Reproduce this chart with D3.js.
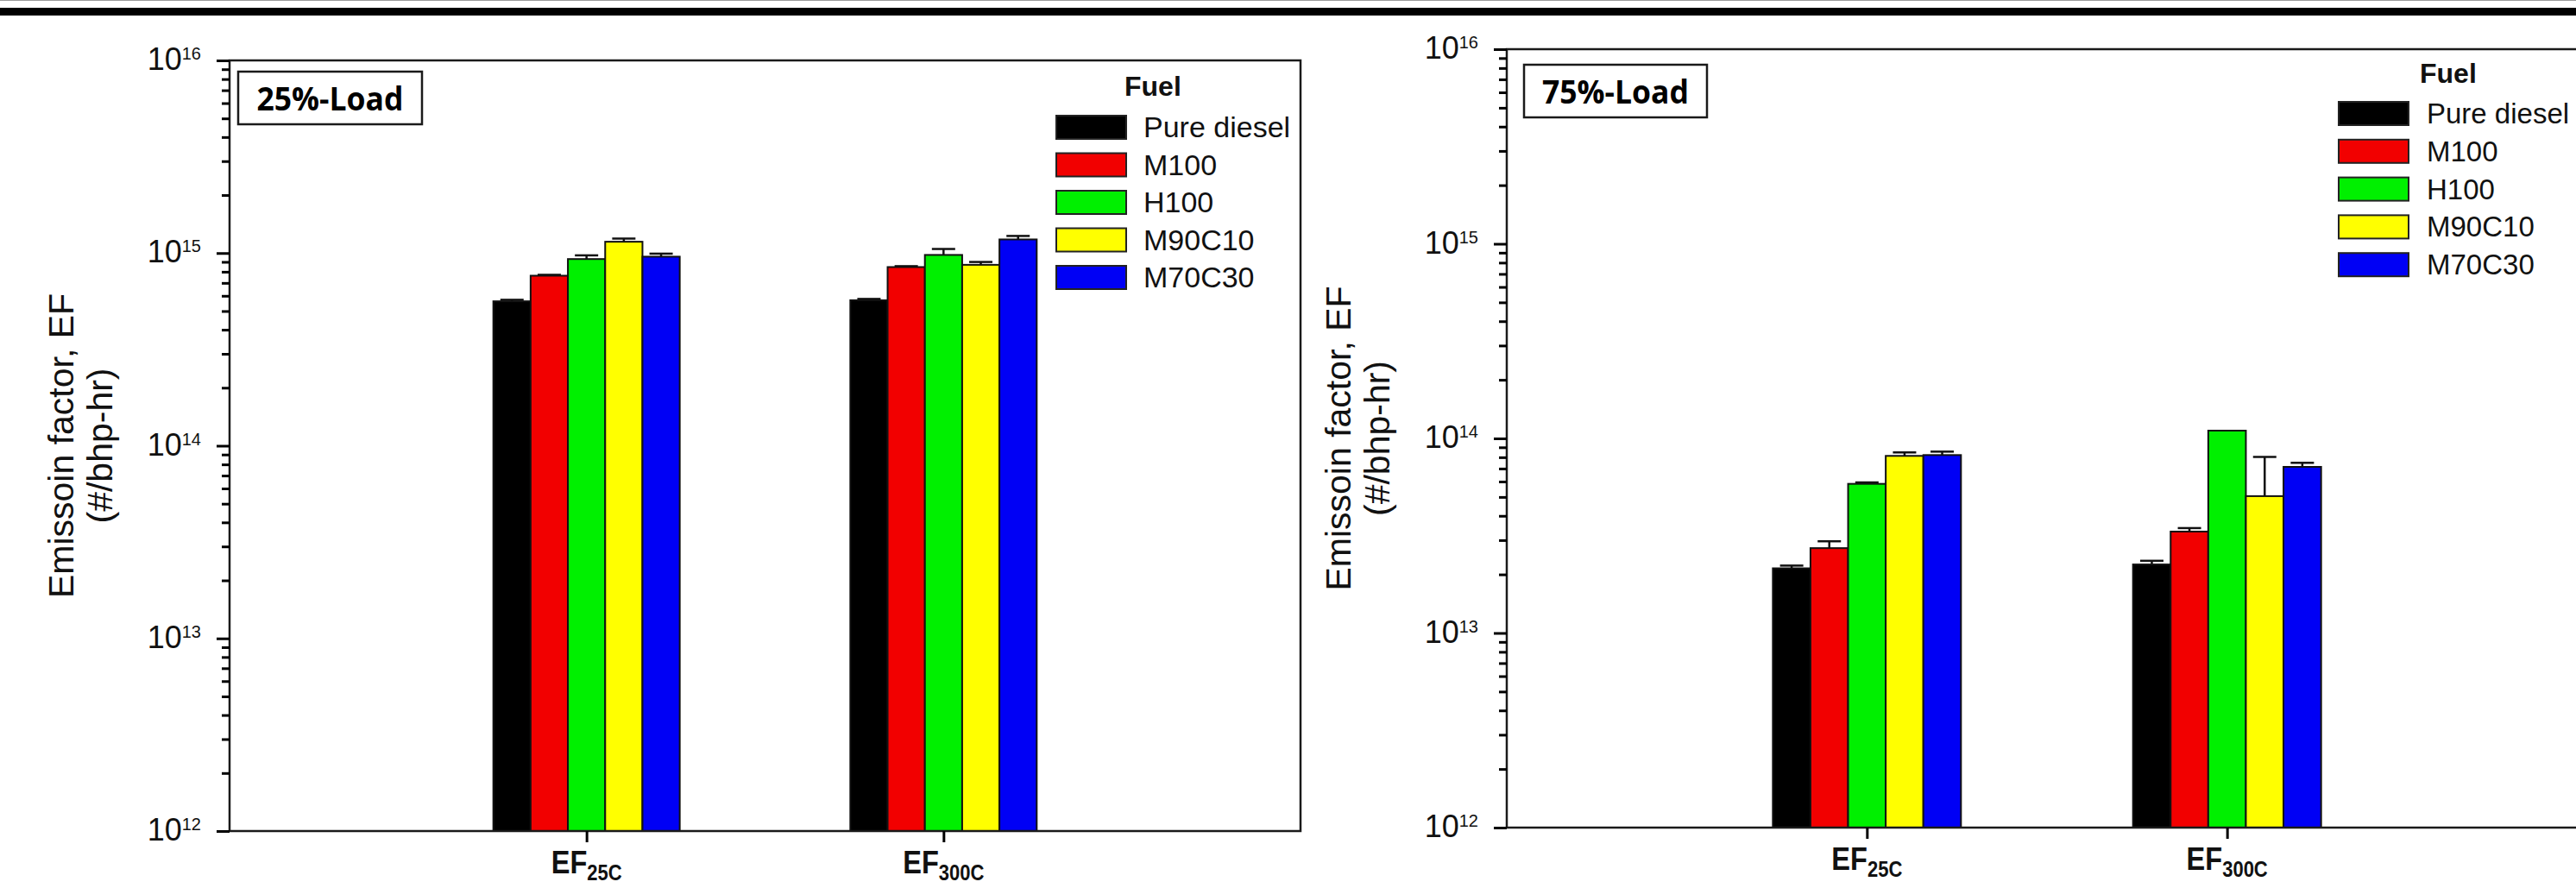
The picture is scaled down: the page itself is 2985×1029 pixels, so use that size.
<!DOCTYPE html>
<html>
<head>
<meta charset="utf-8">
<script src="https://cdn.jsdelivr.net/npm/d3@7"></script>
<style>
  body { margin: 0; background: #fff; }
  svg { display: block; }
</style>
</head>
<body>
<script>
var fuels = ["Pure diesel", "M100", "H100", "M90C10", "M70C30"];
var fuelColors = ["#000000", "#f20000", "#00f000", "#ffff00", "#0000f5"];
var categories = ["25C", "300C"];

// 25% load: mean EF (#/bhp-hr) per fuel, and upper error
var load25_EF25C = [5.62e14, 7.63e14, 9.31e14, 1.145e15, 9.58e14];
var load25_EF300C = [5.69e14, 8.46e14, 9.78e14, 8.69e14, 1.177e15];
var load25_err25C = [0.10e14, 0.08e14, 0.42e14, 0.44e14, 0.35e14];
var load25_err300C = [0.09e14, 0.09e14, 0.72e14, 0.30e14, 0.50e14];

// 75% load
var load75_EF25C = [2.15e13, 2.73e13, 5.84e13, 8.13e13, 8.21e13];
var load75_EF300C = [2.25e13, 3.32e13, 1.096e14, 5.05e13, 7.14e13];
var load75_err25C = [0.07e13, 0.23e13, 0.10e13, 0.34e13, 0.34e13];
var load75_err300C = [0.10e13, 0.14e13, 0, 2.98e13, 0.35e13];

var yDomain = [1e12, 1e16];
var panelLabels = ["25%-Load", "75%-Load"];

var width = 2985, height = 1029;
var font = "'Liberation Sans', Arial, sans-serif";

var svg = d3.select("body").append("svg")
    .attr("width", width)
    .attr("height", height)
    .style("font-family", font);

// top rule of the page
svg.append("line").attr("x1", 0).attr("x2", width).attr("y1", 0.5).attr("y2", 0.5)
    .attr("stroke", "#9a9a9a").attr("stroke-width", 1);
svg.append("rect").attr("x", 0).attr("y", 9).attr("width", width).attr("height", 9).attr("fill", "#000");

// panel layout
var panels = [
    { left: 266, right: 1507, top: 70, bottom: 963, groupW: 216,
      box: [276, 83, 213, 61],
      legend: { swX: 1224, swW: 81, textX: 1325, fuelX: 1303, fuelY: 111, base0: 159, step: 43.5, size: 34 },
      series: [load25_EF25C, load25_EF300C], errors: [load25_err25C, load25_err300C] },
    { left: 1746, right: 2998, top: 57, bottom: 959, groupW: 218,
      box: [1766, 75, 212, 61],
      legend: { swX: 2710, swW: 81, textX: 2812, fuelX: 2804, fuelY: 96, base0: 143, step: 43.8, size: 33 },
      series: [load75_EF25C, load75_EF300C], errors: [load75_err25C, load75_err300C] }
];

panels.forEach(function(p, pi) { drawPanel(p, pi); });

function drawPanel(p, pi) {
    var g = svg.append("g");

    var y = d3.scaleLog().domain(yDomain).range([p.bottom, p.top]);
    var x = d3.scalePoint().domain(categories).range([p.left, p.right]).padding(1);
    var xi = d3.scaleBand().domain(fuels).range([-p.groupW / 2, p.groupW / 2]);
    var color = d3.scaleOrdinal().domain(fuels).range(fuelColors);

    var all = y.ticks();
    var majors = all.filter(function(v) { return Math.abs(Math.log10(v) - Math.round(Math.log10(v))) < 1e-9; });
    var minors = all.filter(function(v) { return majors.indexOf(v) < 0; });

    // bars
    var rows = [];
    categories.forEach(function(c, ci) {
        fuels.forEach(function(f, fi) {
            rows.push({ cat: c, fuel: f, value: p.series[ci][fi], err: p.errors[ci][fi] });
        });
    });

    // error bars first, bars on top
    var eb = g.selectAll(".err").data(rows.filter(function(d) { return d.err > 0; }))
        .enter().append("g").attr("class", "err")
        .attr("stroke", "#111").attr("stroke-width", 2.5);
    eb.append("line")
        .attr("x1", function(d) { return x(d.cat) + xi(d.fuel) + xi.bandwidth() / 2; })
        .attr("x2", function(d) { return x(d.cat) + xi(d.fuel) + xi.bandwidth() / 2; })
        .attr("y1", function(d) { return y(d.value); })
        .attr("y2", function(d) { return y(d.value + d.err); });
    eb.append("line")
        .attr("x1", function(d) { return x(d.cat) + xi(d.fuel) + xi.bandwidth() / 2 - 13.5; })
        .attr("x2", function(d) { return x(d.cat) + xi(d.fuel) + xi.bandwidth() / 2 + 13.5; })
        .attr("y1", function(d) { return y(d.value + d.err); })
        .attr("y2", function(d) { return y(d.value + d.err); });

    g.selectAll(".bar").data(rows).enter().append("rect")
        .attr("class", "bar")
        .attr("x", function(d) { return x(d.cat) + xi(d.fuel); })
        .attr("y", function(d) { return y(d.value); })
        .attr("width", xi.bandwidth())
        .attr("height", function(d) { return y(yDomain[0]) - y(d.value); })
        .attr("fill", function(d) { return color(d.fuel); })
        .attr("stroke", "#111")
        .attr("stroke-width", 2);

    // frame
    g.append("rect")
        .attr("x", p.left).attr("y", p.top)
        .attr("width", p.right - p.left).attr("height", p.bottom - p.top)
        .attr("fill", "none").attr("stroke", "#1a1a1a").attr("stroke-width", 2.5);

    // y axis: minor and major ticks
    var yAxisMinor = g.append("g").attr("transform", "translate(" + p.left + ",0)")
        .call(d3.axisLeft(y).tickValues(minors).tickSize(9).tickSizeOuter(0).tickFormat(""));
    var yAxisMajor = g.append("g").attr("transform", "translate(" + p.left + ",0)")
        .call(d3.axisLeft(y).tickValues(majors).tickSize(15).tickSizeOuter(0).tickFormat(""));
    [yAxisMinor, yAxisMajor].forEach(function(a) {
        a.select(".domain").remove();
        a.selectAll(".tick line").attr("stroke", "#000").attr("stroke-width", 3);
    });

    var lab = g.selectAll(".ylab").data(majors).enter().append("text")
        .attr("class", "ylab")
        .attr("x", p.left - 33)
        .attr("y", function(d) { return y(d) + 11; })
        .attr("text-anchor", "end")
        .attr("fill", "#111")
        .style("font-size", "36px");
    lab.append("tspan").text("10");
    lab.append("tspan").attr("dy", -12).style("font-size", "20px")
        .text(function(d) { return Math.round(Math.log10(d)); });

    // x axis ticks
    var xAxis = g.append("g").attr("transform", "translate(0," + p.bottom + ")")
        .call(d3.axisBottom(x).tickSize(13).tickSizeOuter(0).tickFormat(""));
    xAxis.select(".domain").remove();
    xAxis.selectAll(".tick line").attr("stroke", "#000").attr("stroke-width", 3);

    var xl = g.selectAll(".xlab").data(categories).enter().append("text")
        .attr("class", "xlab")
        .attr("transform", function(d) { return "translate(" + x(d) + "," + (p.bottom + 49) + ") scale(0.88,1)"; })
        .attr("text-anchor", "middle")
        .attr("fill", "#111")
        .style("font-weight", "bold")
        .style("font-size", "37px");
    xl.append("tspan").text("EF");
    xl.append("tspan").attr("dy", 8).style("font-size", "25px").text(function(d) { return d; });

    // y title
    var cy = (p.top + p.bottom) / 2;
    g.append("text")
        .attr("transform", "translate(" + (p.left - 181) + "," + cy + ") rotate(-90)")
        .attr("text-anchor", "middle")
        .style("font-size", "41px")
        .attr("fill", "#111")
        .text("Emissoin factor, EF");
    g.append("text")
        .attr("transform", "translate(" + (p.left - 136) + "," + cy + ") rotate(-90)")
        .attr("text-anchor", "middle")
        .style("font-size", "41px")
        .attr("fill", "#111")
        .text("(#/bhp-hr)");

    // load label box
    g.append("rect")
        .attr("x", p.box[0]).attr("y", p.box[1])
        .attr("width", p.box[2]).attr("height", p.box[3])
        .attr("fill", "#fff").attr("stroke", "#1a1a1a").attr("stroke-width", 2.5);
    g.append("text")
        .attr("x", p.box[0] + p.box[2] / 2)
        .attr("y", p.box[1] + p.box[3] / 2 + 14)
        .attr("text-anchor", "middle")
        .attr("textLength", 170)
        .attr("lengthAdjust", "spacingAndGlyphs")
        .style("font-family", "'Open Sans', 'Noto Sans', sans-serif")
        .style("font-weight", "bold")
        .style("font-size", "38px")
        .attr("fill", "#000")
        .text(panelLabels[pi]);

    // legend
    var L = p.legend;
    g.append("text")
        .attr("x", L.fuelX).attr("y", L.fuelY)
        .style("font-weight", "bold").style("font-size", "32px")
        .attr("fill", "#111")
        .text("Fuel");
    var item = g.selectAll(".leg").data(fuels).enter().append("g").attr("class", "leg");
    item.append("rect")
        .attr("x", L.swX)
        .attr("y", function(d, i) { return L.base0 + i * L.step - 25; })
        .attr("width", L.swW).attr("height", 27)
        .attr("fill", function(d) { return color(d); })
        .attr("stroke", "#222").attr("stroke-width", 2);
    item.append("text")
        .attr("x", L.textX)
        .attr("y", function(d, i) { return L.base0 + i * L.step; })
        .style("font-size", L.size + "px")
        .attr("fill", "#111")
        .text(function(d) { return d; });
}
</script>
</body>
</html>
